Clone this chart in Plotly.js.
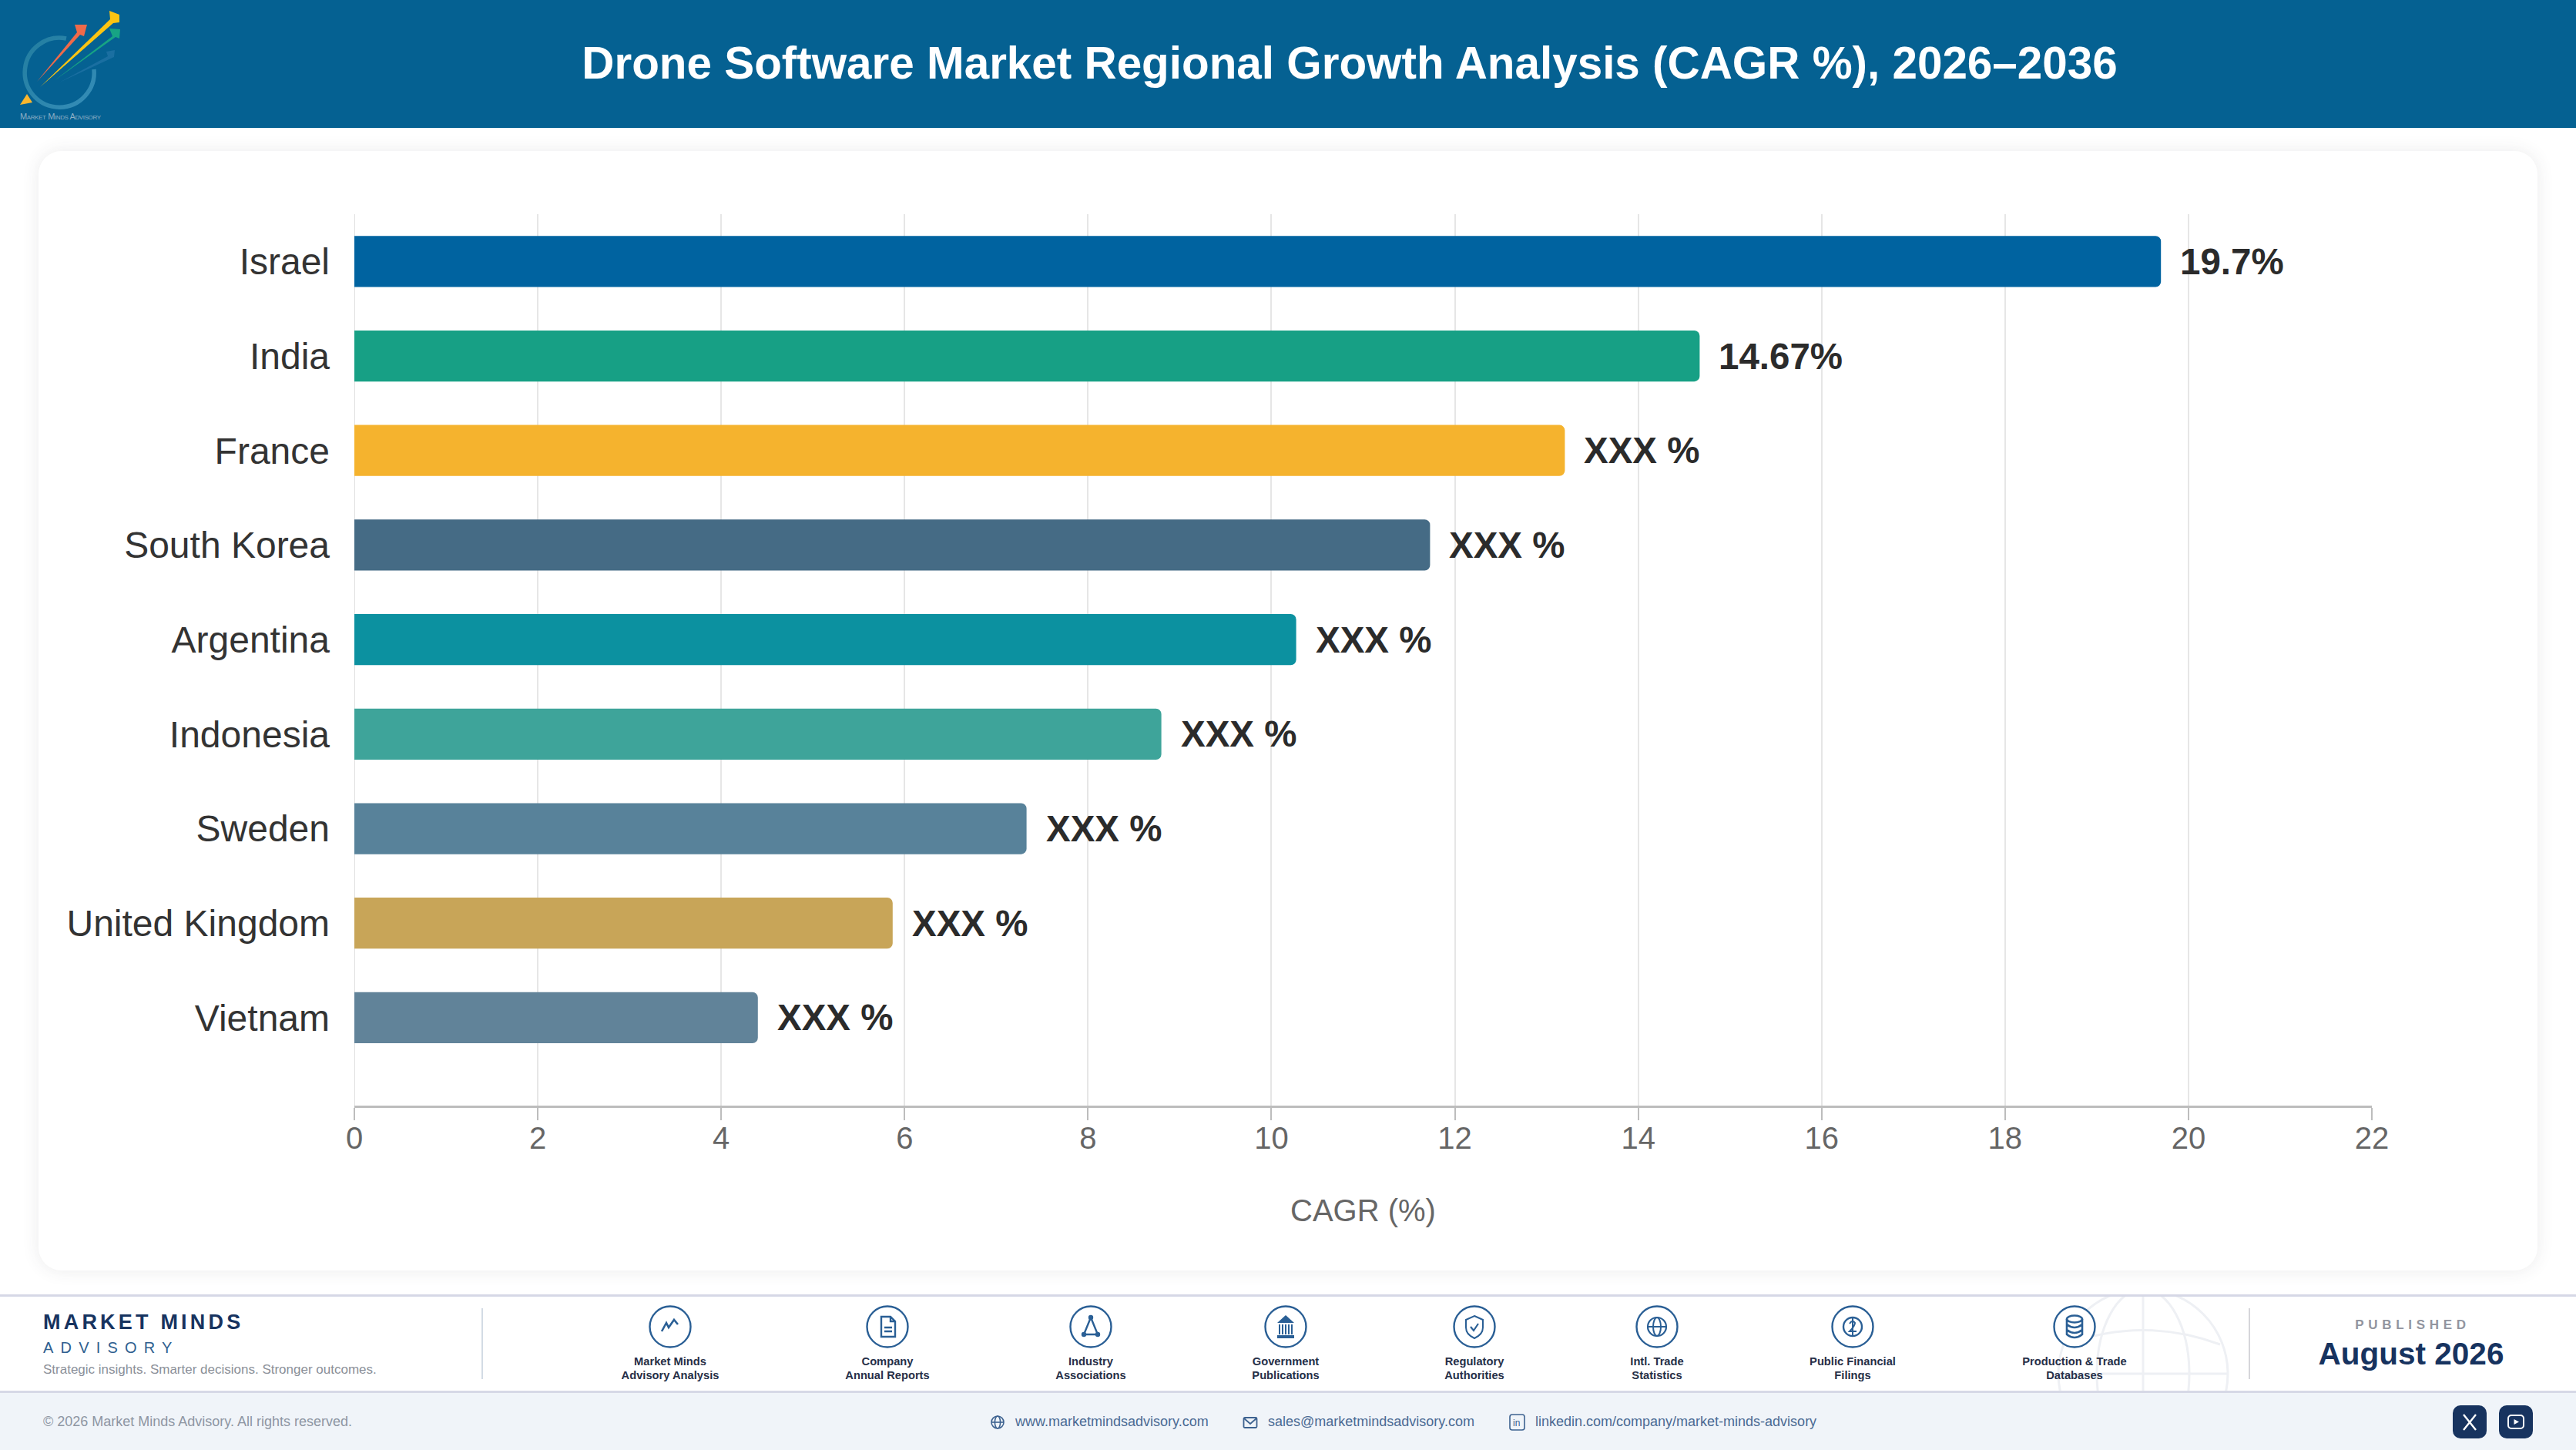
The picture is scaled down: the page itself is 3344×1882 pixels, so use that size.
<!DOCTYPE html>
<html><head><meta charset="utf-8">
<script src="https://cdn.plot.ly/plotly-3.0.0.min.js"></script>
<style>
html,body{margin:0;padding:0;background:#fff;width:3344px;height:1882px;overflow:hidden;font-family:"Liberation Sans",Arial,sans-serif}
.abs{position:absolute}
#header{left:0;top:0;width:3344px;height:166px;background:#056192}
#card{left:50px;top:196px;width:3244px;height:1453px;background:#fff;border-radius:30px;box-shadow:0 0 22px rgba(60,60,70,.10)}
#chart{left:0;top:0;width:3344px;height:1882px}
#strip{left:0;top:1680px;width:3344px;height:128px;background:#fff;border-top:3px solid #d6d8e6;border-bottom:3px solid #d6d8e6;box-sizing:border-box}
#bottom{left:0;top:1808px;width:3344px;height:74px;background:#f0f4f9}
.src{transform:translateX(-50%);text-align:center;font-weight:700;font-size:14.7px;line-height:18px;color:#262f48;white-space:nowrap;top:1758px}
.ic{width:60px;height:60px;top:1692px;transform:translateX(-50%)}
.link{font-size:18px;color:#4a6a94;top:1835px;white-space:nowrap}
svg{display:block}
</style></head><body>
<div id="header" class="abs"></div>
<svg class="abs" style="left:0;top:0" width="170" height="166" viewBox="0 0 170 166">
 <defs><linearGradient id="ring" x1="0" y1="0" x2="1" y2="1"><stop offset="0" stop-color="#2f8aa6"/><stop offset="1" stop-color="#4aa0c8"/></linearGradient></defs>
 <path d="M86 50 A45 45 0 1 0 122 90" fill="none" stroke="url(#ring)" stroke-width="5.5" opacity=".7"/>
 <polygon points="48,106 100,42 97,32 113,32 109,47 104,45" fill="#ef6a4a"/>
 <polygon points="52,113 143,25 142,14 155,19 155,29 147,30" fill="#fbc412"/>
 <polygon points="70,105 146,47 142,37 156,38 155,50 150,48" fill="#17a484"/>
 <polygon points="77,107 140,73 138,67 149,65 148,74" fill="#2878ac" opacity=".6"/>
 <polygon points="26,136 35,122 42,133" fill="#fbb62d"/>
 <text x="26" y="155" font-size="11" fill="#8fb0c6" style="font-variant:small-caps" textLength="105">Market Minds Advisory</text>
</svg>
<div id="card" class="abs"></div>
<div id="strip" class="abs"></div>
<div id="bottom" class="abs"></div>
<svg class="abs" style="left:2660px;top:1683px" width="250" height="122" viewBox="0 0 250 122">
 <g fill="none" stroke="#eef0f4" stroke-width="3">
  <circle cx="122" cy="100" r="110"/><ellipse cx="122" cy="100" rx="60" ry="110"/><line x1="122" y1="-10" x2="122" y2="122"/>
  <line x1="12" y1="100" x2="232" y2="100"/><path d="M22 62 Q122 25 222 62"/></g>
</svg>
<div class="abs" style="left:56px;top:1701px;font-weight:700;font-size:27px;letter-spacing:4.2px;color:#17335f;white-space:nowrap">MARKET MINDS</div>
<div class="abs" style="left:56px;top:1738px;font-size:20px;letter-spacing:9.2px;color:#2f5f90;white-space:nowrap">ADVISORY</div>
<div class="abs" style="left:56px;top:1768px;font-size:17px;color:#8b9099;white-space:nowrap">Strategic insights. Smarter decisions. Stronger outcomes.</div>
<div class="abs" style="left:625px;top:1698px;width:2px;height:92px;background:#d3dbe5"></div>
<div class="abs" style="left:2919px;top:1698px;width:2px;height:92px;background:#d6d6da"></div>
<div class="abs" style="left:3132px;top:1710px;transform:translateX(-50%);font-weight:700;font-size:17px;letter-spacing:5.7px;color:#92959f;white-space:nowrap">PUBLISHED</div>
<div class="abs" style="left:3130px;top:1734px;transform:translateX(-50%);font-weight:700;font-size:40.5px;color:#17335f;white-space:nowrap">August 2026</div>
<div class="abs" style="left:56px;top:1835px;font-size:18px;color:#8e96a3;white-space:nowrap">© 2026 Market Minds Advisory. All rights reserved.</div>
<div class="abs link" style="left:1318px">www.marketmindsadvisory.com</div>
<div class="abs link" style="left:1646px">sales@marketmindsadvisory.com</div>
<div class="abs link" style="left:1993px">linkedin.com/company/market-minds-advisory</div>
<svg class="abs" style="left:1285px;top:1836px" width="20" height="20" viewBox="0 0 20 20" fill="none" stroke="#3d6290" stroke-width="1.6"><circle cx="10" cy="10" r="8"/><ellipse cx="10" cy="10" rx="3.6" ry="8"/><line x1="2" y1="10" x2="18" y2="10"/></svg>
<svg class="abs" style="left:1613px;top:1836px" width="20" height="20" viewBox="0 0 20 20" fill="none" stroke="#3d6290" stroke-width="1.8"><rect x="1.5" y="4" width="17" height="13" rx="1.5"/><path d="M2 5 L10 12 L18 5"/></svg>
<svg class="abs" style="left:1959px;top:1835px" width="21" height="22" viewBox="0 0 21 22" fill="none" stroke="#3d6290" stroke-width="1.6"><rect x="1" y="1" width="19" height="20" rx="3"/><text x="5" y="16" font-size="12" fill="#3d6290" stroke="none" font-family="Liberation Sans">in</text></svg>
<svg class="abs" style="left:3184px;top:1824px" width="44" height="43" viewBox="0 0 44 43"><rect width="44" height="43" rx="10" fill="#17335f"/><path d="M14 12 L30 32 M30 12 L14 32" stroke="#fff" stroke-width="2.4"/></svg>
<svg class="abs" style="left:3244px;top:1824px" width="44" height="43" viewBox="0 0 44 43"><rect width="44" height="43" rx="10" fill="#17335f"/><rect x="12" y="13" width="20" height="17" rx="4" fill="none" stroke="#fff" stroke-width="2"/><polygon points="19.5,18 26,21.5 19.5,25" fill="#fff"/></svg>
<div id="sources"></div>
<div id="chart" class="abs"></div>
<script>
const categories = ["Israel","India","France","South Korea","Argentina","Indonesia","Sweden","United Kingdom","Vietnam"];
const cagrValues = [19.7,14.67,13.2,11.73,10.27,8.8,7.33,5.87,4.4];
const valueLabels = ["19.7%","14.67%","XXX %","XXX %","XXX %","XXX %","XXX %","XXX %","XXX %"];
const barColors = ["#0063a0","#17a085","#f5b32e","#456b85","#0c91a0","#3ea49a","#58829a","#c8a558","#618399"];
const xTicks = [0,2,4,6,8,10,12,14,16,18,20,22];
const sourceLabels = [["Market Minds","Advisory Analysis"],["Company","Annual Reports"],["Industry","Associations"],["Government","Publications"],["Regulatory","Authorities"],["Intl. Trade","Statistics"],["Public Financial","Filings"],["Production & Trade","Databases"]];
const sourceCenters = [870,1152,1416,1669,1914,2151,2405,2693];
const iconBodies = [
 '<path d="M19 36 L25 25 L28 31 L35 21 L40 27" fill="none" stroke-width="2.6"/>',
 '<path d="M22 17 H34 L40 23 V43 H22 Z M34 17 V23 H40 M26 31 H36 M26 36 H36" fill="none" stroke-width="2.4"/>',
 '<path d="M30 18 L21 40 H39 Z" fill="none" stroke-width="2.4"/><circle cx="30" cy="18" r="3.2" stroke="none"/><circle cx="21" cy="40" r="3.2" stroke="none"/><circle cx="39" cy="40" r="3.2" stroke="none"/>',
 '<path d="M30 15 L41 25 H19 Z M19 41 H41 V45 H19 Z" stroke="none"/><path d="M22 27 V40 M26 27 V40 M30 27 V40 M34 27 V40 M38 27 V40" fill="none" stroke-width="2"/>',
 '<path d="M30 16 L41 21 V31 Q41 40 30 45 Q19 40 19 31 V21 Z" fill="none" stroke-width="2"/><path d="M25 30 L29 35 L35 26" fill="none" stroke-width="2.2"/>',
 '<circle cx="30" cy="30" r="12" fill="none" stroke-width="2.2"/><ellipse cx="30" cy="30" rx="5" ry="12" fill="none" stroke-width="2"/><line x1="18" y1="30" x2="42" y2="30" stroke-width="2"/>',
 '<circle cx="30" cy="30" r="12" fill="none" stroke-width="2.4"/><path d="M26 26 Q30 20 33 25 Q33 29 26 36 H35 M30 19 V41" fill="none" stroke-width="2"/>',
 '<ellipse cx="30" cy="20" rx="10" ry="4.5" fill="none" stroke-width="2.6"/><path d="M20 20 V40 Q30 48 40 40 V20 M20 27 Q30 35 40 27 M20 34 Q30 42 40 34" fill="none" stroke-width="2.6"/>'
];
const host = document.getElementById('sources');
sourceLabels.forEach((lines,i)=>{
  const c = sourceCenters[i];
  host.insertAdjacentHTML('beforeend',
   `<svg class="abs ic" style="left:${c}px" viewBox="0 0 60 60" fill="#2a5f95" stroke="#2a5f95"><circle cx="30" cy="30" r="26.5" fill="#fff" stroke-width="2.4"/>${iconBodies[i]}</svg>`+
   `<div class="abs src" style="left:${c}px">${lines.map(s=>s.replace('&','&amp;')).join('<br>')}</div>`);
});
const FONT = '"Liberation Sans", Arial, sans-serif';
const trace = {type:'bar',orientation:'h',y:categories,x:cagrValues,width:0.54,
  marker:{color:barColors,cornerradius:7,line:{width:0}},hoverinfo:'skip',cliponaxis:false};
const layout = {
  width:3344,height:1882,paper_bgcolor:'rgba(0,0,0,0)',plot_bgcolor:'rgba(0,0,0,0)',
  margin:{l:460,r:265,t:278,b:447,pad:0},showlegend:false,font:{family:FONT},
  title:{text:'<b>Drone Software Market Regional Growth Analysis (CAGR %), 2026–2036</b>',
    font:{family:FONT,size:58.4,color:'#ffffff'},x:1752/3344,xanchor:'center',xref:'container',
    y:1-82/1882,yanchor:'middle',yref:'container'},
  xaxis:{range:[0,22],tickvals:xTicks,ticks:'outside',ticklen:16,tickwidth:2,tickcolor:'#bdbdbd',
    showline:true,linecolor:'#bdbdbd',linewidth:3,showgrid:true,gridcolor:'#e6e6e6',gridwidth:2,zeroline:false,
    ticklabelstandoff:-11,
    tickfont:{family:FONT,size:40,color:'#666666'},
    title:{text:'CAGR (%)',font:{family:FONT,size:40,color:'#666666'},standoff:59}},
  yaxis:{type:'category',categoryorder:'array',categoryarray:categories,range:[8.93,-0.5],
    showline:false,showgrid:false,zeroline:false,ticks:'',ticklabelstandoff:31,
    tickfont:{family:FONT,size:48,color:'#333333'}},
  shapes:[{type:'line',xref:'x',yref:'paper',x0:0,x1:0,y0:0,y1:1,line:{color:'#e0e0e0',width:2},layer:'below'}],
  annotations:categories.map((c,i)=>({x:cagrValues[i],y:c,xref:'x',yref:'y',xanchor:'left',yanchor:'middle',xshift:23,showarrow:false,
    text:'<b>'+valueLabels[i]+'</b>',font:{family:FONT,size:47.5,color:'#2b2b2b'}}))
};
Plotly.newPlot('chart',[trace],layout,{displayModeBar:false,staticPlot:true});
</script>
</body></html>
